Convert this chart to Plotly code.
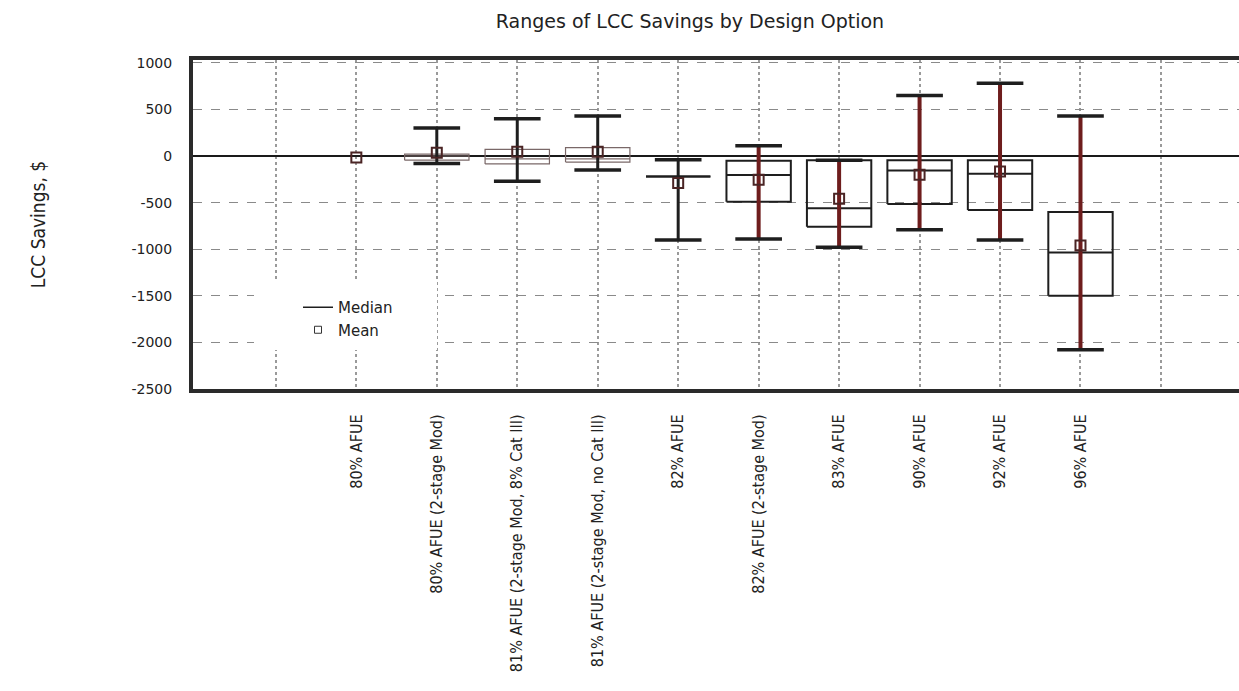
import plotly.graph_objects as go

# ---------------- data ----------------
categories = [
    "80% AFUE",
    "80% AFUE (2-stage Mod)",
    "81% AFUE (2-stage Mod, 8% Cat III)",
    "81% AFUE (2-stage Mod, no Cat III)",
    "82% AFUE",
    "82% AFUE (2-stage Mod)",
    "83% AFUE",
    "90% AFUE",
    "92% AFUE",
    "96% AFUE",
]
positions = [2, 3, 4, 5, 6, 7, 8, 9, 10, 11]
lower_whisker = [0, -80, -270, -150, -900, -890, -980, -790, -900, -2080]
upper_whisker = [0, 300, 400, 430, -40, 110, -45, 650, 780, 430]
q1_values = [0, -45, -85, -65, -220, -490, -760, -515, -580, -1500]
q3_values = [0, 20, 70, 90, -220, -50, -45, -45, -45, -600]
median_values = [0, 0, -30, -30, -220, -205, -560, -155, -190, -1035]
mean_values = [-15, 35, 45, 45, -290, -255, -460, -200, -165, -960]

grid_positions = list(range(1, 13))
y_tick_values = [1000, 500, 0, -500, -1000, -1500, -2000, -2500]
y_tick_labels = ["1000", "500", "0", "-500", "-1000", "-1500", "-2000", "-2500"]

# ---------------- styles ----------------
box_style = ["none", "thin", "thin", "thin", "dark", "dark", "dark", "dark", "dark", "dark"]
whisker_style = ["black", "black", "black", "black", "black", "red", "red", "red", "red", "red"]
BOX_HALF = 0.40
CAP_HALF = 0.29

DARK = "#1e1e1e"
RED = "#6e1d1d"
THIN = "#7a6868"
FUTURA = "DejaVu Sans, Verdana, sans-serif"
NARROW = "Liberation Sans Narrow, DejaVu Sans Condensed, Roboto Condensed, Arial Narrow, sans-serif"

X_RANGE = [-0.03, 12.97]
Y_RANGE = [-2500, 1030]


def box_path(idx_list):
    xs, ys = [], []
    for i in idx_list:
        p = positions[i]
        xs += [p - BOX_HALF, p + BOX_HALF, p + BOX_HALF, p - BOX_HALF, p - BOX_HALF, None,
               p - BOX_HALF, p + BOX_HALF, None]
        ys += [q1_values[i], q1_values[i], q3_values[i], q3_values[i], q1_values[i], None,
               median_values[i], median_values[i], None]
    return xs, ys


def whisker_path(idx_list):
    xs, ys = [], []
    for i in idx_list:
        p = positions[i]
        xs += [p, p, None]
        ys += [lower_whisker[i], upper_whisker[i], None]
    return xs, ys


def cap_path(idx_list):
    xs, ys = [], []
    for i in idx_list:
        p = positions[i]
        for v in (lower_whisker[i], upper_whisker[i]):
            xs += [p - CAP_HALF, p + CAP_HALF, None]
            ys += [v, v, None]
    return xs, ys


n = len(categories)
has_range = [i for i in range(n) if lower_whisker[i] != upper_whisker[i]]
thin_idx = [i for i in has_range if box_style[i] == "thin"]
dark_idx = [i for i in has_range if box_style[i] == "dark"]
black_w = [i for i in has_range if whisker_style[i] == "black"]
red_w = [i for i in has_range if whisker_style[i] == "red"]

fig = go.Figure()

x, y = box_path(thin_idx)
fig.add_trace(go.Scatter(x=x, y=y, mode="lines", line=dict(color=THIN, width=1.2),
                         showlegend=False, hoverinfo="skip"))
x, y = box_path(dark_idx)
fig.add_trace(go.Scatter(x=x, y=y, mode="lines", line=dict(color=DARK, width=2),
                         showlegend=False, hoverinfo="skip"))
x, y = whisker_path(black_w)
fig.add_trace(go.Scatter(x=x, y=y, mode="lines", line=dict(color=DARK, width=3),
                         showlegend=False, hoverinfo="skip"))
x, y = whisker_path(red_w)
fig.add_trace(go.Scatter(x=x, y=y, mode="lines", line=dict(color=RED, width=4),
                         showlegend=False, hoverinfo="skip"))
x, y = cap_path(has_range)
fig.add_trace(go.Scatter(x=x, y=y, mode="lines", line=dict(color=DARK, width=3.5),
                         showlegend=False, hoverinfo="skip"))
fig.add_trace(go.Scatter(x=positions, y=mean_values, mode="markers",
                         marker=dict(symbol="square-open", size=10, color="#4a2424",
                                     line=dict(width=2, color="#4a2424")),
                         showlegend=False, hoverinfo="skip"))

# legend entries
fig.add_trace(go.Scatter(x=[None], y=[None], mode="lines", name="Median",
                         line=dict(color=DARK, width=1.5)))
fig.add_trace(go.Scatter(x=[None], y=[None], mode="markers", name="Mean",
                         marker=dict(symbol="square-open", size=7, color="#333333",
                                     line=dict(width=1, color="#333333"))))

W, H = 1239, 691
L, R, T, B = 193, 0, 60, 302
pw, ph = W - L - R, H - T - B


def px_to_paper_x(px):
    return (px - L) / pw


def px_to_paper_y(py):
    return (H - B - py) / ph


def px_to_data_x(px):
    return X_RANGE[0] + (px - L) / pw * (X_RANGE[1] - X_RANGE[0])


def px_to_data_y(py):
    return Y_RANGE[0] + (H - B - py) / ph * (Y_RANGE[1] - Y_RANGE[0])


# white backdrop behind the legend (interrupts the grid like in the original)
fig.add_shape(type="rect", xref="x", yref="y",
              x0=px_to_data_x(254), x1=px_to_data_x(437),
              y0=px_to_data_y(350), y1=px_to_data_y(280),
              fillcolor="white", line=dict(width=0), layer="between")

fig.update_layout(
    width=W, height=H,
    margin=dict(l=L, r=R, t=T, b=B, autoexpand=False),
    paper_bgcolor="white", plot_bgcolor="white",
    title=dict(text="Ranges of LCC Savings by Design Option",
               x=690 / W, xanchor="center", xref="container",
               y=1 - 21 / H, yanchor="middle", yref="container",
               font=dict(family=FUTURA, size=19, color="#222222")),
    legend=dict(x=px_to_paper_x(298), y=px_to_paper_y(291), xanchor="left", yanchor="top",
                bgcolor="rgba(0,0,0,0)", borderwidth=0,
                font=dict(family=FUTURA, size=15, color="#222222"), tracegroupgap=0),
    xaxis=dict(
        range=X_RANGE,
        tickmode="array", tickvals=grid_positions,
        ticktext=["" if p not in positions else categories[positions.index(p)] for p in grid_positions],
        tickangle=-90, ticks="", ticklabelstandoff=15,
        tickfont=dict(family=NARROW, size=16, color="#222222"),
        showgrid=True, gridcolor="#9a9a9a", gridwidth=2, griddash="dot",
        showline=True, linecolor="#2a2a2a", linewidth=4, mirror=True,
        zeroline=False, fixedrange=True,
    ),
    yaxis=dict(
        range=Y_RANGE,
        tickmode="array", tickvals=y_tick_values, ticktext=y_tick_labels,
        ticks="", ticklabelstandoff=14,
        tickfont=dict(family=FUTURA, size=14, color="#222222"),
        showgrid=True, gridcolor="#8a8a8a", gridwidth=1, griddash="dash",
        showline=True, linecolor="#2a2a2a", linewidth=4, mirror=False,
        zeroline=True, zerolinecolor="#1a1a1a", zerolinewidth=1.5,
        title=dict(text="LCC Savings, $", standoff=82,
                   font=dict(family=NARROW, size=19, color="#222222")),
        fixedrange=True,
    ),
)

fig.write_html(
    "out.html",
    config={"displayModeBar": False},
    post_script="document.body.style.margin='0';document.body.style.overflow='hidden';",
)
